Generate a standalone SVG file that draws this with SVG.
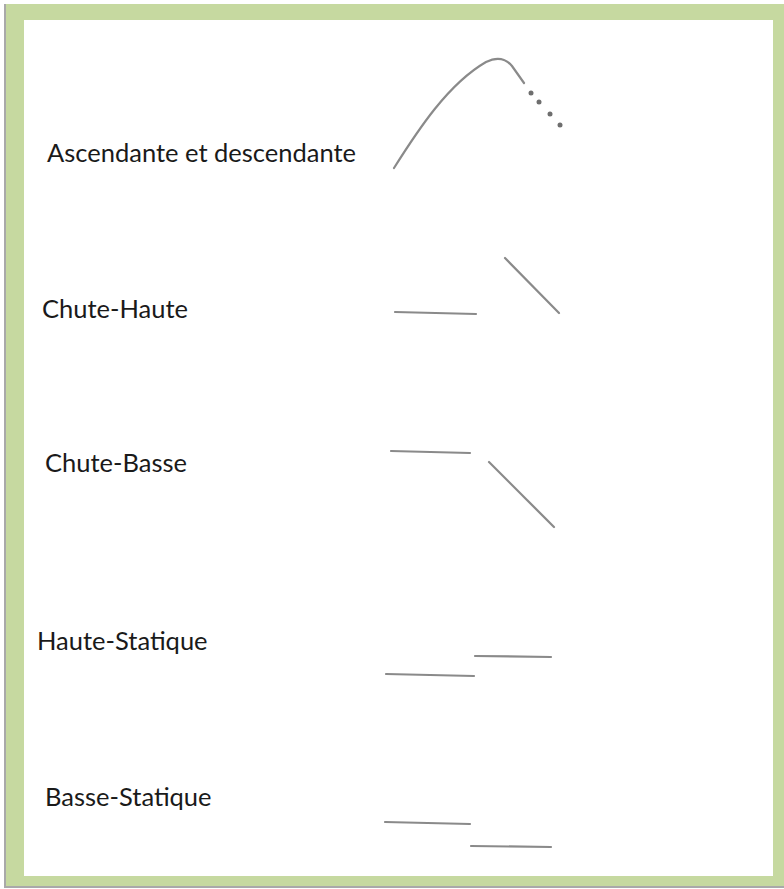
<svg xmlns="http://www.w3.org/2000/svg" width="784" height="889" viewBox="0 0 784 889">
  <style>
    .label { font-family: Lato, "Liberation Sans", sans-serif; font-size: 25.5px; fill: #1a1a1a; }
    .stroke { fill: none; stroke: #8a8a8a; stroke-width: 2.2; stroke-linecap: round; }
    .dot { fill: #6e6e6e; }
  </style>

  <!-- page background and green frame -->
  <rect x="0" y="0" width="784" height="889" fill="#ffffff"/>
  <rect x="4" y="4" width="780" height="884" fill="#a9a9a9"/>
  <rect x="6" y="4" width="778" height="882" fill="#c6d9a0"/>
  <rect x="24" y="20" width="749" height="856" fill="#ffffff"/>

  <!-- pitch contour labels -->
  <g id="label-ascendante">
    <text class="label" x="47" y="162">Ascendante et descendante</text>
  </g>
  <g id="label-chute-haute">
    <text class="label" x="42" y="318">Chute-Haute</text>
  </g>
  <g id="label-chute-basse">
    <text class="label" x="45" y="472">Chute-Basse</text>
  </g>
  <g id="label-haute-statique">
    <text class="label" x="37" y="650">Haute-Statique</text>
  </g>
  <g id="label-basse-statique">
    <text class="label" x="45" y="806">Basse-Statique</text>
  </g>

  <!-- contour sketches -->
  <g id="contours">
    <g id="contour-ascendante">
      <path class="stroke" d="M394,168 C418,130 448,84 486,62 Q502,54 512,66 L524,83"/>
      <circle class="dot" cx="531" cy="93" r="2.5"/>
      <circle class="dot" cx="539" cy="102" r="2.5"/>
      <circle class="dot" cx="550" cy="114" r="2.5"/>
      <circle class="dot" cx="560" cy="125" r="2.5"/>
    </g>
    <g id="contour-chute-haute">
      <path class="stroke" d="M395,312 L476,314"/>
      <path class="stroke" d="M505,258 L559,313"/>
    </g>
    <g id="contour-chute-basse">
      <path class="stroke" d="M391,451 L470,453"/>
      <path class="stroke" d="M489,462 L554,527"/>
    </g>
    <g id="contour-haute-statique">
      <path class="stroke" d="M475,656 L551,657"/>
      <path class="stroke" d="M386,674 L474,676"/>
    </g>
    <g id="contour-basse-statique">
      <path class="stroke" d="M385,822 L470,824"/>
      <path class="stroke" d="M471,846 L551,847"/>
    </g>
  </g>
</svg>
